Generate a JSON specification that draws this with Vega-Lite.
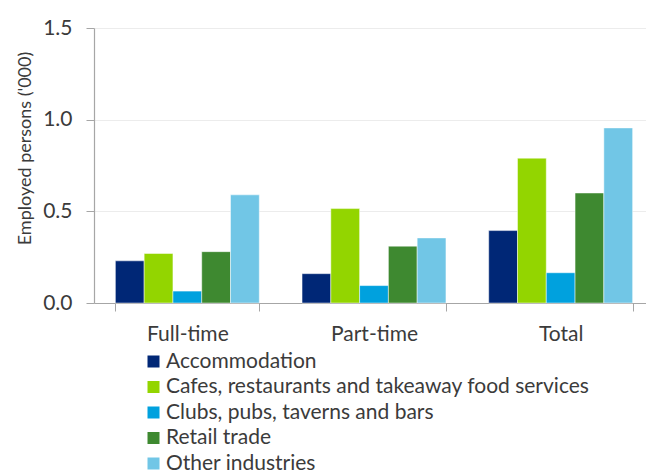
{
  "$schema": "https://vega.github.io/schema/vega-lite/v6.json",
  "autosize": {"type": "none"},
  "padding": {"left": 94, "top": 28, "right": 0, "bottom": 168},
  "width": 552,
  "height": 275,
  "background": "white",
  "config": {
    "font": "Lato",
    "view": {"stroke": null}
  },
  "data": {
    "values": [
      {"type": "Full-time", "industry": "Accommodation", "value": 0.23},
      {"type": "Full-time", "industry": "Cafes, restaurants and takeaway food services", "value": 0.27},
      {"type": "Full-time", "industry": "Clubs, pubs, taverns and bars", "value": 0.065},
      {"type": "Full-time", "industry": "Retail trade", "value": 0.28},
      {"type": "Full-time", "industry": "Other industries", "value": 0.59},
      {"type": "Part-time", "industry": "Accommodation", "value": 0.16},
      {"type": "Part-time", "industry": "Cafes, restaurants and takeaway food services", "value": 0.515},
      {"type": "Part-time", "industry": "Clubs, pubs, taverns and bars", "value": 0.095},
      {"type": "Part-time", "industry": "Retail trade", "value": 0.31},
      {"type": "Part-time", "industry": "Other industries", "value": 0.355},
      {"type": "Total", "industry": "Accommodation", "value": 0.395},
      {"type": "Total", "industry": "Cafes, restaurants and takeaway food services", "value": 0.79},
      {"type": "Total", "industry": "Clubs, pubs, taverns and bars", "value": 0.165},
      {"type": "Total", "industry": "Retail trade", "value": 0.60},
      {"type": "Total", "industry": "Other industries", "value": 0.955}
    ]
  },
  "mark": {"type": "bar", "stroke": "white", "strokeOpacity": 0.6, "strokeWidth": 0.8},
  "encoding": {
    "x": {
      "field": "type",
      "type": "nominal",
      "sort": ["Full-time", "Part-time", "Total"],
      "scale": {"range": [0, 560], "paddingInner": 0.229, "paddingOuter": 0.1145},
      "axis": {
        "title": null,
        "labelAngle": 0,
        "labelFontSize": 21,
        "labelColor": "#3b3b3b",
        "labelBaseline": "alphabetic",
        "labelPadding": 29,
        "tickBand": "extent",
        "tickSize": 8,
        "tickColor": "#a6a6a6",
        "domainColor": "#a6a6a6",
        "domainWidth": 1.2
      }
    },
    "xOffset": {
      "field": "industry",
      "type": "nominal",
      "sort": ["Accommodation", "Cafes, restaurants and takeaway food services", "Clubs, pubs, taverns and bars", "Retail trade", "Other industries"],
      "scale": {"paddingInner": 0, "paddingOuter": 0}
    },
    "y": {
      "field": "value",
      "type": "quantitative",
      "scale": {"domain": [0, 1.5]},
      "axis": {
        "title": "Employed persons ('000)",
        "titleFontSize": 18,
        "titleFontWeight": "normal",
        "titleColor": "#3b3b3b",
        "titleX": -69,
        "titleY": 120,
        "titleAlign": "center",
        "titleBaseline": "middle",
        "values": [0, 0.5, 1, 1.5],
        "format": ".1f",
        "labelFontSize": 21,
        "labelColor": "#3b3b3b",
        "labelPadding": 14,
        "tickSize": 8,
        "tickColor": "#a6a6a6",
        "domainColor": "#a6a6a6",
        "domainWidth": 1.2,
        "gridColor": "#ececec",
        "gridWidth": 1
      }
    },
    "color": {
      "field": "industry",
      "type": "nominal",
      "sort": ["Accommodation", "Cafes, restaurants and takeaway food services", "Clubs, pubs, taverns and bars", "Retail trade", "Other industries"],
      "scale": {
        "domain": ["Accommodation", "Cafes, restaurants and takeaway food services", "Clubs, pubs, taverns and bars", "Retail trade", "Other industries"],
        "range": ["#002776", "#93d500", "#00a1de", "#3e8930", "#71c6e6"]
      },
      "legend": {
        "title": null,
        "orient": "none",
        "legendX": 49,
        "legendY": 323,
        "direction": "vertical",
        "symbolType": "square",
        "symbolSize": 144,
        "symbolStrokeWidth": 0,
        "symbolOpacity": 1,
        "labelFontSize": 21,
        "labelColor": "#3b3b3b",
        "labelOffset": 2,
        "labelLimit": 600,
        "rowPadding": 3.5
      }
    }
  }
}
